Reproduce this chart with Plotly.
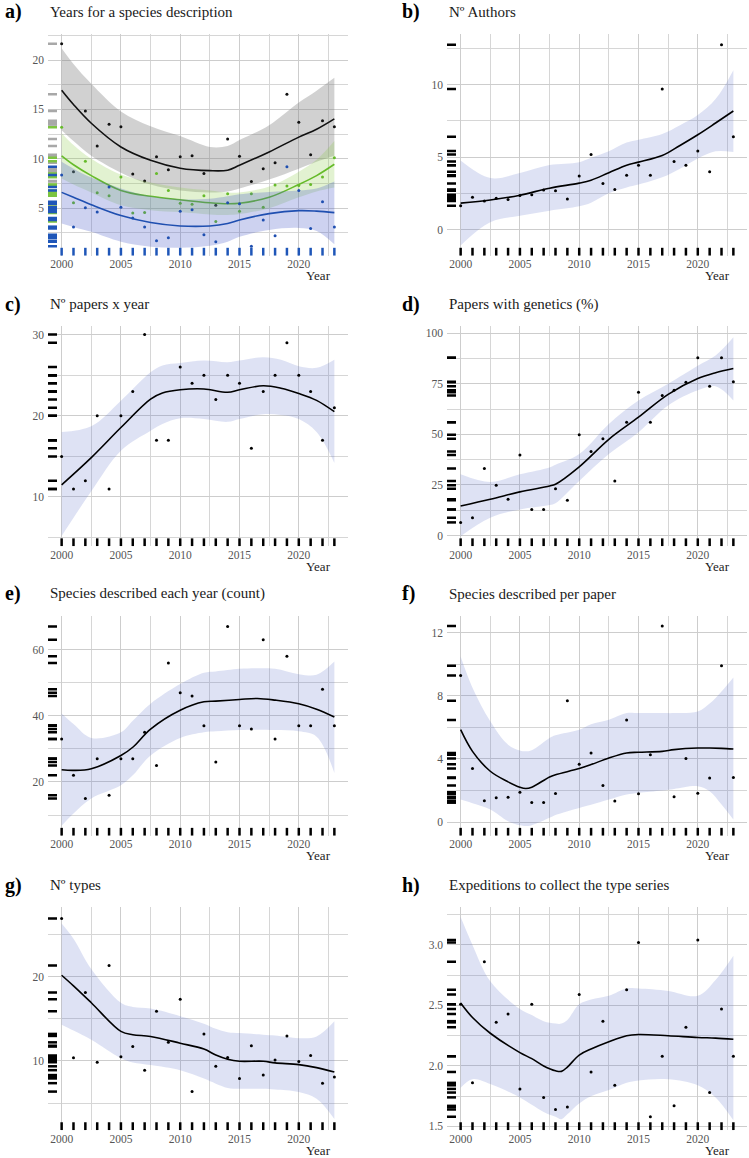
import plotly.graph_objects as go

years = list(range(2000, 2024))

# ---------------- a) Years for a species description ----------------
a_total = [21.65, 8.7, 14.85, 11.3, 13.5, 13.25, 8.45, 7.75, 10.2, 8.9, 10.2, 10.3,
           8.5, 5.3, 12.0, 10.25, 7.7, 9.0, 9.6, 16.55, 13.7, 10.4, 13.85, 13.25]
a_green = [13.2, 5.55, 9.75, 6.55, 6.25, 8.15, 4.5, 4.55, 8.5, 6.8, 5.5, 5.4,
           6.25, 3.65, 6.45, 4.7, 6.45, 5.1, 7.35, 7.25, 7.3, 7.4, 8.15, 10.1]
a_blue = [8.35, 3.1, 5.05, 4.6, 7.15, 5.1, 4.0, 3.1, 1.7, 2.0, 4.7, 4.85,
          2.3, 1.6, 5.55, 5.45, 1.15, 3.8, 2.2, 9.2, 6.8, 2.95, 5.65, 3.1]
a_grid = [2000, 2001, 2002.5, 2005, 2007.5, 2010, 2012.5, 2014, 2015, 2017.5, 2020, 2021.5, 2023]
a_total_fit = [16.95, 15.5, 13.6, 11.2, 9.85, 9.05, 8.8, 8.85, 9.35, 10.7, 12.2, 13.0, 14.05]
a_total_hi = [21.2, 19.6, 17.6, 14.8, 13.3, 12.3, 11.2, 11.3, 11.9, 13.4, 15.7, 16.9, 18.2]
a_total_lo = [12.9, 11.8, 10.3, 8.6, 7.4, 6.8, 6.6, 6.7, 7.0, 7.9, 9.0, 9.7, 10.3]
a_green_fit = [10.3, 9.4, 8.3, 6.8, 6.2, 5.85, 5.55, 5.45, 5.5, 6.1, 7.4, 8.3, 9.45]
a_green_hi = [12.6, 11.4, 10.0, 8.4, 7.6, 7.1, 6.8, 6.6, 6.6, 7.2, 8.7, 9.9, 11.8]
a_green_lo = [8.0, 7.4, 6.6, 5.3, 4.8, 4.6, 4.35, 4.3, 4.4, 5.0, 6.1, 6.7, 7.1]
a_blue_fit = [6.6, 6.1, 5.35, 4.25, 3.55, 3.2, 3.2, 3.45, 3.8, 4.45, 4.75, 4.7, 4.55]
a_blue_hi = [9.7, 9.0, 8.1, 7.0, 6.2, 5.9, 5.95, 6.2, 6.4, 6.65, 6.8, 7.0, 7.7]
a_blue_lo = [3.45, 3.1, 2.6, 1.6, 1.1, 1.0, 1.2, 1.6, 2.1, 2.8, 3.0, 2.7, 1.35]

# ---------------- b) Nº Authors ----------------
b_vals = [1.64, 2.23, 1.96, 2.16, 2.07, 2.35, 2.39, 2.73, 2.67, 2.1, 3.69, 5.17,
          3.17, 2.76, 3.74, 4.44, 3.74, 9.7, 4.69, 4.44, 5.42, 3.99, 12.76, 6.4]
b_grid = [2000, 2002.5, 2005, 2007.5, 2010, 2011, 2012.5, 2014, 2015, 2017, 2018.5, 2020, 2021.5, 2023]
b_fit = [1.82, 2.03, 2.37, 2.85, 3.2, 3.4, 3.92, 4.44, 4.65, 5.1, 5.8, 6.54, 7.35, 8.18]
b_hi = [4.76, 3.55, 3.9, 4.45, 4.65, 4.95, 5.4, 6.0, 6.2, 6.6, 7.2, 7.9, 9.0, 11.0]
b_lo = [-1.1, 0.5, 0.95, 1.3, 1.6, 1.85, 2.5, 2.9, 3.1, 3.6, 4.2, 4.9, 5.4, 5.35]

# ---------------- c) Nº papers x year ----------------
c_vals = [15, 11, 12, 20, 11, 20, 23, 30, 17, 17, 26, 24,
          25, 22, 25, 24, 16, 23, 25, 29, 25, 23, 17, 21]
c_grid = [2000, 2002.5, 2005, 2007.5, 2008.5, 2010, 2012, 2014, 2015, 2017, 2018.5, 2020, 2021.5, 2023]
c_fit = [11.5, 14.85, 18.55, 22.05, 22.8, 23.2, 23.3, 22.9, 23.2, 23.7, 23.4, 22.75, 21.9, 20.5]
c_hi = [18.0, 18.7, 21.85, 25.35, 26.2, 26.5, 26.8, 26.6, 26.8, 27.2, 26.9, 26.1, 25.9, 26.9]
c_lo = [5.2, 10.7, 15.7, 18.15, 19.0, 19.7, 19.6, 19.25, 19.6, 20.2, 20.1, 19.6, 18.0, 14.2]

# ---------------- d) Papers with genetics (%) ----------------
d_vals = [6.5, 8.8, 33.2, 24.9, 17.9, 39.8, 12.9, 12.9, 23.2, 17.4, 49.9, 41.5,
          47.9, 27.0, 56.05, 70.8, 56.05, 69.3, 71.8, 75.8, 87.9, 73.8, 87.9, 76.1]
d_grid = [2000, 2002.5, 2005, 2007.5, 2008, 2010, 2012.5, 2015, 2017.5, 2020, 2021.5, 2023]
d_fit = [14.6, 17.9, 21.6, 24.5, 25.4, 34.0, 47.6, 58.5, 69.8, 77.6, 80.5, 82.6]
d_hi = [30.3, 26.5, 30.3, 33.7, 35.0, 40.3, 55.2, 66.8, 75.1, 84.0, 89.0, 98.0]
d_lo = [-0.3, 8.8, 12.9, 15.1, 16.0, 27.0, 40.3, 51.1, 64.3, 71.8, 73.8, 66.8]

# ---------------- e) Species described each year (count) ----------------
e_vals = [33, 22, 15, 27, 16, 27, 27, 35, 25, 56, 47, 46,
          37, 26, 67, 37, 36, 63, 33, 58, 37, 37, 48, 37]
e_grid = [2000, 2001, 2002.5, 2005, 2006, 2007.5, 2010, 2012, 2013, 2015, 2016.5, 2018, 2020, 2021.5, 2023]
e_fit = [23.7, 23.5, 24.0, 28.0, 30.5, 36.0, 41.7, 44.25, 44.45, 44.95, 45.25, 44.75, 43.65, 42.0, 39.65]
e_hi = [40.7, 37.5, 33.3, 35.0, 38.5, 43.65, 49.6, 53.0, 53.4, 54.2, 54.4, 54.2, 52.6, 52.4, 56.4]
e_lo = [6.8, 10.5, 15.0, 19.0, 22.0, 28.0, 33.3, 35.0, 35.3, 35.7, 35.8, 35.7, 35.3, 33.7, 22.7]

# ---------------- f) Species described per paper ----------------
f_vals = [9.28, 3.39, 1.35, 1.54, 1.58, 1.89, 1.24, 1.24, 1.81, 7.68, 3.66, 4.38,
          2.32, 1.33, 6.46, 1.79, 4.27, 12.42, 1.6, 4.02, 1.83, 2.8, 9.89, 2.82]
f_grid = [2000, 2001, 2002.5, 2004, 2005, 2005.5, 2006, 2007.5, 2008, 2010, 2011, 2012.5,
          2014, 2015, 2017, 2018, 2020, 2021, 2022, 2023]
f_fit = [5.85, 4.48, 3.22, 2.55, 2.21, 2.13, 2.21, 2.86, 3.0, 3.39, 3.64, 4.06,
         4.38, 4.42, 4.48, 4.59, 4.69, 4.69, 4.67, 4.63]
f_hi = [10.48, 8.5, 6.38, 4.9, 4.53, 4.48, 4.55, 5.33, 5.5, 5.85, 6.2, 6.48,
        6.9, 6.9, 6.9, 6.9, 7.0, 7.5, 8.27, 9.16]
f_lo = [1.43, 1.2, 0.8, 0.06, -0.2, -0.25, -0.2, 0.27, 0.45, 0.9, 1.1, 1.43,
        1.75, 1.85, 2.0, 2.1, 2.27, 1.96, 1.12, 0.17]

# ---------------- g) Nº types ----------------
g_vals = [26.9, 10.36, 18.1, 9.84, 21.3, 10.5, 11.7, 8.9, 15.9, 12.2, 17.3, 6.36,
          13.2, 9.36, 10.4, 7.92, 11.8, 8.32, 10.1, 12.96, 9.92, 10.64, 7.36, 8.08]
g_grid = [2000, 2001, 2002.5, 2005, 2006, 2007.5, 2010, 2012, 2013, 2014, 2015, 2017, 2018, 2020, 2021.5, 2023]
g_fit = [20.16, 18.9, 16.9, 13.5, 13.1, 12.9, 12.1, 11.4, 10.7, 10.2, 9.96, 9.96, 9.76, 9.56, 9.2, 8.68]
g_hi = [26.3, 24.5, 20.9, 16.9, 16.4, 16.2, 15.3, 14.4, 13.8, 13.4, 13.3, 13.1, 13.0, 12.7, 12.9, 14.7]
g_lo = [14.3, 13.6, 12.5, 10.3, 9.8, 9.5, 8.9, 7.9, 7.3, 6.8, 6.7, 6.7, 6.6, 6.3, 5.5, 3.1]

# ---------------- h) Expeditions to collect the type series ----------------
h_vals = [2.51, 1.86, 2.86, 2.36, 2.43, 1.81, 2.51, 1.74, 1.64, 1.66, 2.59, 1.95,
          2.37, 1.84, 2.63, 3.02, 1.58, 2.08, 1.67, 2.32, 3.04, 1.78, 2.47, 2.08]
h_grid = [2000, 2001, 2002.5, 2005, 2006, 2007, 2008, 2008.5, 2009, 2010, 2011, 2012.5,
          2014, 2015, 2017.5, 2020, 2021.5, 2023]
h_fit = [2.52, 2.4, 2.27, 2.11, 2.06, 2.0, 1.96, 1.955, 1.99, 2.09, 2.14, 2.2,
         2.25, 2.26, 2.25, 2.235, 2.23, 2.22]
h_hi = [3.23, 3.0, 2.7, 2.47, 2.42, 2.37, 2.35, 2.35, 2.38, 2.51, 2.55, 2.58,
        2.64, 2.64, 2.62, 2.58, 2.71, 2.91]
h_lo = [1.82, 1.89, 1.85, 1.74, 1.68, 1.62, 1.58, 1.56, 1.6, 1.69, 1.75, 1.8,
        1.86, 1.88, 1.89, 1.84, 1.74, 1.55]

titles = ["Years for a species description", "Nº Authors", "Nº papers x year",
          "Papers with genetics (%)", "Species described each year (count)",
          "Species described per paper", "Nº types", "Expeditions to collect the type series"]
letters = ["a)", "b)", "c)", "d)", "e)", "f)", "g)", "h)"]

# ---------------- layout geometry ----------------
W, H = 749, 1158
cols = [(48, 348), (447, 747)]
rows = [(34, 256), (327, 547), (617, 837), (909, 1132)]
yranges = [[0.2, 22.65], [-1.8, 13.5], [3.96, 31.0], [-5.2, 103.4],
           [3.8, 70.2], [-0.85, 13.05], [1.8, 28.2], [1.47, 3.31]]
ydticks = [(5, 2.5), (5, 2.5), (10, 5), (25, 12.5), (20, 10), (4, 2), (10, 5), (0.5, 0.25)]
XR = [1998.85, 2024.15]

SERIF = "Liberation Serif"
BAND = "rgba(90,110,200,0.2)"
GRID_MAJ = "#cdcdcd"
GRID_MIN = "#d6d6d6"

fig = go.Figure()
shapes = []
annotations = []


def axname(i):
    return ("x", "y") if i == 1 else (f"x{i}", f"y{i}")


def add_series(i, vals, grid, fit, hi, lo, band_col, line_col, pt_col, rug_col, xrug_col=None):
    xa, ya = axname(i)
    fig.add_trace(go.Scatter(x=grid, y=lo, mode="lines", line=dict(width=0, shape="spline"),
                             xaxis=xa, yaxis=ya, showlegend=False, hoverinfo="skip"))
    fig.add_trace(go.Scatter(x=grid, y=hi, mode="lines", line=dict(width=0, shape="spline"),
                             fill="tonexty", fillcolor=band_col,
                             xaxis=xa, yaxis=ya, showlegend=False, hoverinfo="skip"))
    fig.add_trace(go.Scatter(x=years, y=vals, mode="markers",
                             marker=dict(size=3, color=pt_col),
                             xaxis=xa, yaxis=ya, showlegend=False))
    fig.add_trace(go.Scatter(x=grid, y=fit, mode="lines",
                             line=dict(width=1.6, color=line_col, shape="spline"),
                             xaxis=xa, yaxis=ya, showlegend=False))
    for v in vals:
        shapes.append(dict(type="line", xref=f"{xa} domain", yref=ya,
                           x0=0, x1=0.03, y0=v, y1=v,
                           line=dict(color=rug_col, width=2.5)))
    if xrug_col:
        for yr in years:
            shapes.append(dict(type="line", xref=xa, yref=f"{ya} domain",
                               x0=yr, x1=yr, y0=0, y1=0.035,
                               line=dict(color=xrug_col, width=2.5)))


# panel a (three series)
add_series(1, a_total, a_grid, a_total_fit, a_total_hi, a_total_lo,
           "rgba(128,128,128,0.36)", "#111111", "#111111", "#a8a8a8")
add_series(1, a_green, a_grid, a_green_fit, a_green_hi, a_green_lo,
           "rgba(140,205,70,0.25)", "#66bb2a", "#66bb2a", "#7cc440")
add_series(1, a_blue, a_grid, a_blue_fit, a_blue_hi, a_blue_lo,
           "rgba(70,90,200,0.27)", "#1f4fb0", "#1f4fb0", "#1f56b8", xrug_col="#1f56b8")

others = [
    (2, b_vals, b_grid, b_fit, b_hi, b_lo),
    (3, c_vals, c_grid, c_fit, c_hi, c_lo),
    (4, d_vals, d_grid, d_fit, d_hi, d_lo),
    (5, e_vals, e_grid, e_fit, e_hi, e_lo),
    (6, f_vals, f_grid, f_fit, f_hi, f_lo),
    (7, g_vals, g_grid, g_fit, g_hi, g_lo),
    (8, h_vals, h_grid, h_fit, h_hi, h_lo),
]
for i, vals, grid, fit, hi, lo in others:
    add_series(i, vals, grid, fit, hi, lo, BAND, "#000000", "#000000", "#000000", xrug_col="#000000")

layout = dict(width=W, height=H, margin=dict(l=0, r=0, t=0, b=0), autosize=False,
              paper_bgcolor="white", plot_bgcolor="white", showlegend=False)

for k in range(8):
    i = k + 1
    c = cols[k % 2]
    r = rows[k // 2]
    xd = [c[0] / W, c[1] / W]
    yd = [1 - r[1] / H, 1 - r[0] / H]
    xkey = "xaxis" if i == 1 else f"xaxis{i}"
    ykey = "yaxis" if i == 1 else f"yaxis{i}"
    xa, ya = axname(i)
    dt, mdt = ydticks[k]
    layout[xkey] = dict(domain=xd, anchor=ya, range=XR, tick0=2000, dtick=5,
                        showgrid=True, gridcolor=GRID_MAJ, gridwidth=1,
                        minor=dict(tick0=2000, dtick=2.5, showgrid=True, gridcolor=GRID_MIN, gridwidth=1),
                        zeroline=False, showline=False, ticks="",
                        tickfont=dict(family=SERIF, size=11.5, color="#555555"))
    layout[ykey] = dict(domain=yd, anchor=xa, range=yranges[k], tick0=0, dtick=dt,
                        showgrid=True, gridcolor=GRID_MAJ, gridwidth=1,
                        minor=dict(tick0=0, dtick=mdt, showgrid=True, gridcolor=GRID_MIN, gridwidth=1),
                        zeroline=False, showline=False, ticks="", ticklabelstandoff=3,
                        tickformat=".1f" if k == 7 else None,
                        tickfont=dict(family=SERIF, size=11.5, color="#555555"))
    # titles
    ty = 1 - (r[0] - 22) / H
    annotations.append(dict(xref="paper", yref="paper", x=c[0] / W, y=ty, xanchor="left",
                            yanchor="middle", text=titles[k], showarrow=False,
                            font=dict(family=SERIF, size=15, color="#1a1a1a")))
    lx = 3 if k % 2 == 0 else 400
    annotations.append(dict(xref="paper", yref="paper", x=lx / W, y=ty, xanchor="left",
                            yanchor="middle", text="<b>" + letters[k] + "</b>", showarrow=False,
                            font=dict(family=SERIF, size=20, color="#000000")))
    annotations.append(dict(xref=f"{xa} domain", yref=f"{ya} domain", x=0.95,
                            y=-20 / (r[1] - r[0]), xanchor="right", yanchor="middle",
                            text="Year", showarrow=False,
                            font=dict(family=SERIF, size=13, color="#222222")))

layout["shapes"] = shapes
layout["annotations"] = annotations
fig.update_layout(**layout)
fig.write_html("out.html")
